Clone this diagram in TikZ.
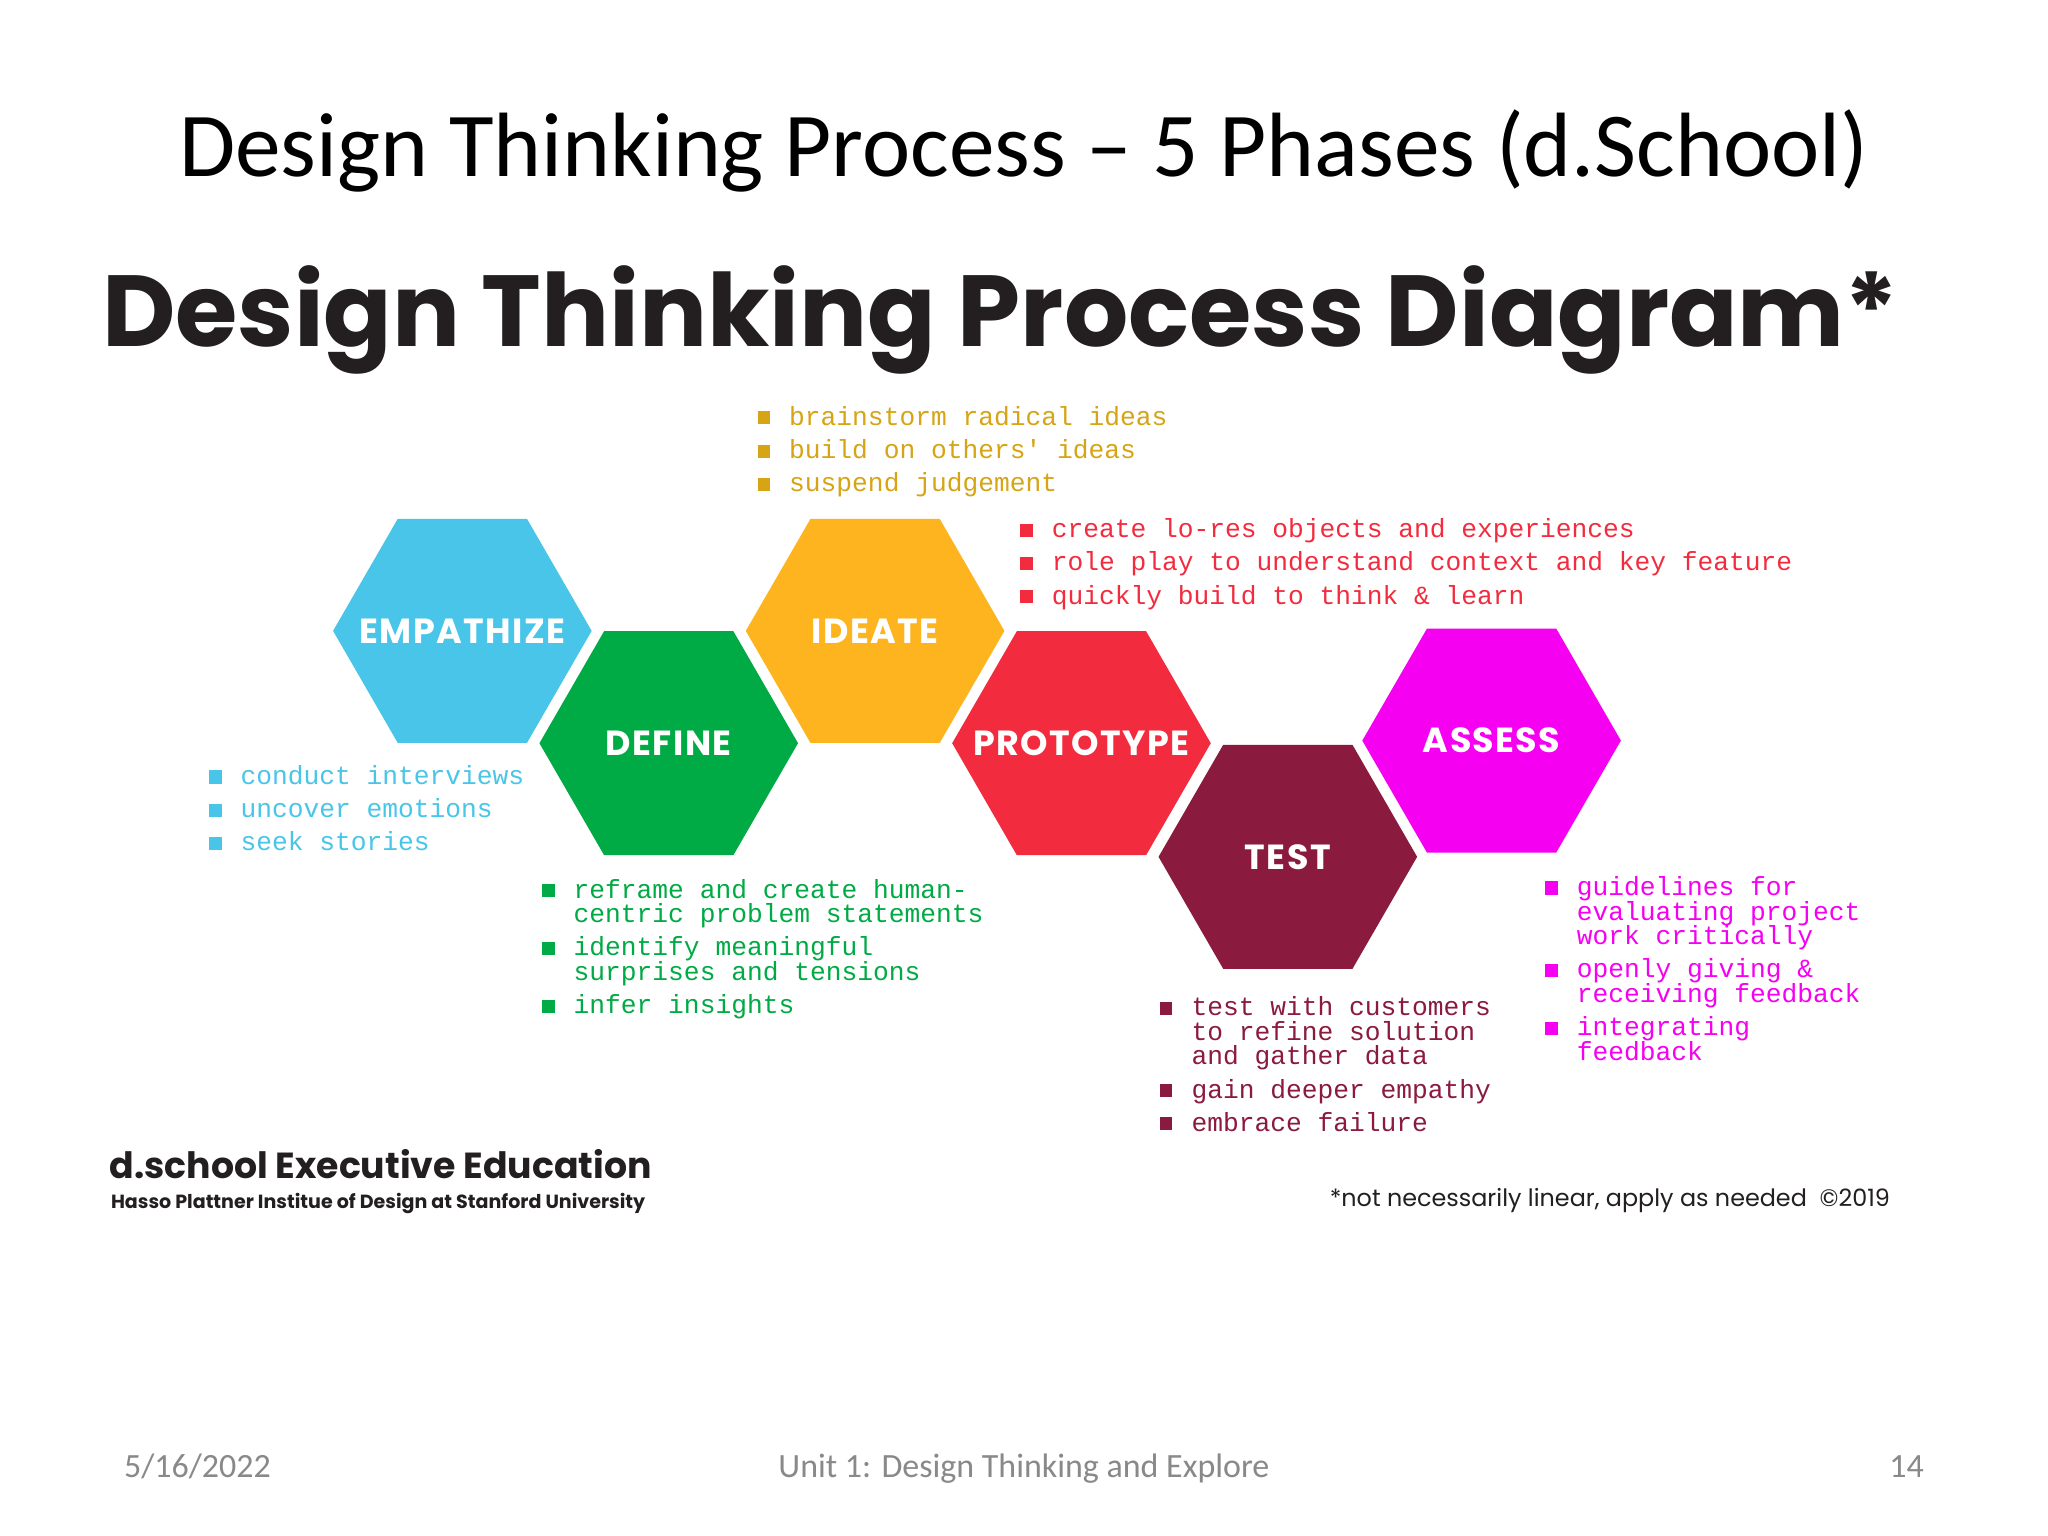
\documentclass[tikz,border=0pt]{standalone}
\usepackage{fontspec}
\usepackage{tikz}
\usetikzlibrary{shapes.geometric}
\setmainfont{Carlito}
\newfontfamily\headfont{Poppins}
\newfontfamily\phasefont[LetterSpace=4]{Poppins}
\newfontfamily\listfont{Liberation Mono}
\definecolor{dsBlue}{RGB}{72,197,232}
\definecolor{dsGreen}{RGB}{0,170,68}
\definecolor{dsOrange}{RGB}{253,180,30}
\definecolor{dsGold}{RGB}{214,164,20}
\definecolor{dsRed}{RGB}{242,44,62}
\definecolor{dsMaroon}{RGB}{139,27,62}
\definecolor{dsMagenta}{RGB}{245,0,240}
\definecolor{dsInk}{RGB}{35,31,32}
\definecolor{slideGray}{RGB}{137,137,137}
\newcommand{\bsq}{\makebox[6.9pt][l]{\rule[0.2pt]{2.75pt}{2.85pt}}}
\newcommand{\bind}{\hspace*{6.9pt}}
\setlength{\lineskiplimit}{-10pt}

\begin{document}
\begin{tikzpicture}[x=0.1mm, y=-0.1mm]%
  \tikzset{hexa/.style={regular polygon, regular polygon sides=6, minimum size=19.8mm, inner sep=0pt, draw=none},
           phase/.style={text=white, inner sep=0pt, font=\phasefont\bfseries\fontsize{7.6}{8}\selectfont},
           bullets/.style={anchor=north west, align=left, inner sep=0pt, text=#1, font=\listfont\fontsize{5.72}{5.35}\selectfont}}
  \tikzstyle{every node}=[outer sep=0pt, inner sep=0pt]

  \fill[white] (0,0) rectangle (1568,1176);
  \useasboundingbox (0,0) rectangle (1568,1176);

  % titles
  \node[anchor=base, font=\fontsize{19.9}{22}\selectfont] at (784,135) (TTL) {Design Thinking Process -- 5 Phases (d.School)};
  \node[anchor=base, text=dsInk, font=\headfont\bfseries\fontsize{22}{26}\selectfont] at (766,265) (HDG) {Design Thinking Process Diagram*};

  % the six phases
  \node[hexa, fill=dsBlue, label={[phase]center:EMPATHIZE}] at (354,483) (EMP) {};
  \node[hexa, fill=dsGreen, label={[phase]center:DEFINE}] at (512,569) (DEF) {};
  \node[hexa, fill=dsOrange, label={[phase]center:IDEATE}] at (670,483) (IDE) {};
  \node[hexa, fill=dsRed, label={[phase]center:PROTOTYPE}] at (828,569) (PRT) {};
  \node[hexa, fill=dsMaroon, label={[phase]center:TEST}] at (986,656) (TST) {};
  \node[hexa, fill=dsMagenta, label={[phase]center:ASSESS}] at (1142,567) (ASE) {};

  % bullet lists
  \node[bullets=dsGold] at (580,311) (IDEtxt) {\bsq brainstorm radical ideas\\[1.9pt] \bsq build on others' ideas\\[1.9pt] \bsq suspend judgement};
  \node[bullets=dsRed] at (781,397) (PRTtxt) {\bsq create lo-res objects and experiences\\[1.9pt] \bsq role play to understand context and key feature\\[1.9pt] \bsq quickly build to think \& learn};
  \node[bullets=dsBlue] at (160,586) (EMPtxt) {\bsq conduct interviews\\[1.9pt] \bsq uncover emotions\\[1.9pt] \bsq seek stories};
  \node[bullets=dsGreen] at (415,673) (DEFtxt) {\bsq reframe and create human-\\ \bind centric problem statements\\[1.9pt] \bsq identify meaningful\\ \bind surprises and tensions\\[1.9pt] \bsq infer insights};
  \node[bullets=dsMaroon] at (888,763) (TSTtxt) {\bsq test with customers\\ \bind to refine solution\\ \bind and gather data\\[1.9pt] \bsq gain deeper empathy\\[1.9pt] \bsq embrace failure};
  \node[bullets=dsMagenta] at (1183,671) (ASEtxt) {\bsq guidelines for\\ \bind evaluating project\\ \bind work critically\\[1.9pt] \bsq openly giving \&\\ \bind receiving feedback\\[1.9pt] \bsq integrating\\ \bind feedback};

  % credits
  \node[anchor=base west, text=dsInk, font=\headfont\bfseries\fontsize{7.9}{9}\selectfont] at (84,902) (DSC) {d.school Executive Education};
  \node[anchor=base west, text=dsInk, font=\headfont\bfseries\fontsize{4.15}{5}\selectfont] at (85,925) (HPI) {Hasso Plattner Institue of Design at Stanford University};
  \node[anchor=base east, text=dsInk, font=\headfont\fontsize{5.2}{6}\selectfont] at (1447,924) (NOTE) {*not necessarily linear, apply as needed\ \ \textcopyright2019};

  % slide footer
  \node[anchor=base west, text=slideGray, font=\fontsize{7.4}{9}\selectfont] at (95,1131) (DATE) {5/16/2022};
  \node[anchor=base, text=slideGray, font=\fontsize{7.4}{9}\selectfont] at (784,1131) (UNIT) {Unit 1: Design Thinking and Explore};
  \node[anchor=base east, text=slideGray, font=\fontsize{7.4}{9}\selectfont] at (1473,1131) (PAGE) {14};
\end{tikzpicture}
\end{document}
